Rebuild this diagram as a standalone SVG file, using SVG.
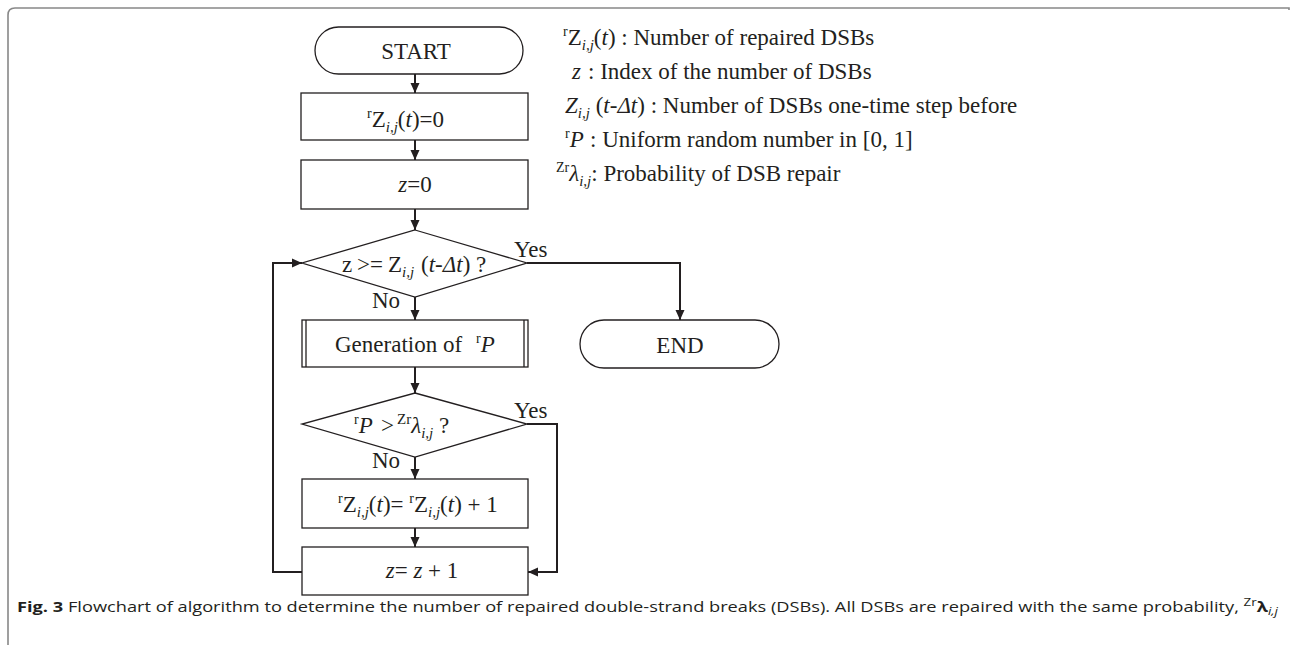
<svg xmlns="http://www.w3.org/2000/svg" width="1291" height="645" viewBox="0 0 1291 645">
<style>
.sh{fill:#fff;stroke:#231f20;stroke-width:1.3}
.cn{fill:none;stroke:#231f20;stroke-width:2}
.t{font-family:"Liberation Serif","Times New Roman",serif;font-size:23px;fill:#231f20}
.lg{font-family:"Liberation Serif","Times New Roman",serif;font-size:23px;fill:#231f20}
.it{font-style:italic}
.cap{font-family:"Open Sans","Noto Sans",sans-serif;font-size:15px;fill:#231f20}
</style>
<defs>
<marker id="ah" markerUnits="userSpaceOnUse" markerWidth="12" markerHeight="10" refX="10" refY="5" orient="auto">
<path d="M0,0.5 L10,5 L0,9.5 z" fill="#231f20"/>
</marker>
</defs>
<rect width="1291" height="645" fill="#fff"/>
<path d="M8,645 V15 Q8,8 15,8 H1289 V10" fill="none" stroke="#888" stroke-width="1.6"/>

<g id="connectors">
<path class="cn" d="M415,74 V93" marker-end="url(#ah)"/>
<path class="cn" d="M415,140 V160" marker-end="url(#ah)"/>
<path class="cn" d="M415,209 V230" marker-end="url(#ah)"/>
<path class="cn" d="M415,297 V320" marker-end="url(#ah)"/>
<path class="cn" d="M415,367 V393" marker-end="url(#ah)"/>
<path class="cn" d="M415,457 V479" marker-end="url(#ah)"/>
<path class="cn" d="M415,528 V547" marker-end="url(#ah)"/>
<path class="cn" d="M527,263 H680 V320" marker-end="url(#ah)"/>
<path class="cn" d="M527,424 H557 V572 H528" marker-end="url(#ah)"/>
<path class="cn" d="M302,572 H273 V263 H302" marker-end="url(#ah)"/>
<text class="t" x="514" y="257">Yes</text>
<text class="t" x="372" y="308">No</text>
<text class="t" x="514" y="418">Yes</text>
<text class="t" x="372" y="468">No</text>
</g>

<g id="start">
<rect class="sh" x="315" y="27" width="208" height="47" rx="23.5"/>
<text class="t" x="416" y="59" text-anchor="middle">START</text>
</g>
<g id="init-rz">
<rect class="sh" x="301" y="93" width="227" height="47"/>
<text class="t" x="367" y="127"><tspan font-size="14" dy="-9">r</tspan><tspan dy="9">Z</tspan><tspan class="it" font-size="15" dy="5">i,j</tspan><tspan dy="-5">(</tspan><tspan class="it">t</tspan>)=0</text>
</g>
<g id="init-z">
<rect class="sh" x="301" y="160" width="227" height="49"/>
<text class="t" x="415" y="192" text-anchor="middle"><tspan class="it">z</tspan>=0</text>
</g>
<g id="cond1">
<polygon class="sh" points="415,230 527,263 415,297 302,263"/>
<text class="t" x="342" y="272">z <tspan x="357">&gt;=</tspan><tspan x="388">Z</tspan><tspan class="it" font-size="15" dy="5">i,j</tspan><tspan dy="-5" x="421">(</tspan><tspan class="it">t</tspan>-<tspan class="it">Δt</tspan>) ?</text>
</g>
<g id="gen-p">
<rect class="sh" x="302" y="320" width="226" height="47"/>
<line x1="306" y1="320" x2="306" y2="367" stroke="#231f20" stroke-width="1.3"/>
<line x1="524" y1="320" x2="524" y2="367" stroke="#231f20" stroke-width="1.3"/>
<text class="t" x="335" y="352">Generation of<tspan font-size="14" dy="-9" x="476">r</tspan><tspan class="it" dy="9">P</tspan></text>
</g>
<g id="cond2">
<polygon class="sh" points="415,393 527,424 415,457 302,424"/>
<text class="t" x="354" y="433"><tspan font-size="14" dy="-9">r</tspan><tspan class="it" dy="9">P</tspan><tspan x="381">&gt;</tspan><tspan font-size="15" dy="-9" x="397">Zr</tspan><tspan class="it" dy="9">λ</tspan><tspan class="it" font-size="15" dy="5">i,j</tspan><tspan dy="-5"> ?</tspan></text>
</g>
<g id="increment-rz">
<rect class="sh" x="302" y="479" width="226" height="49"/>
<text class="t" x="338" y="512"><tspan font-size="14" dy="-9">r</tspan><tspan dy="9">Z</tspan><tspan class="it" font-size="15" dy="5">i,j</tspan><tspan dy="-5">(</tspan><tspan class="it">t</tspan>)= <tspan font-size="14" dy="-9">r</tspan><tspan dy="9">Z</tspan><tspan class="it" font-size="15" dy="5">i,j</tspan><tspan dy="-5">(</tspan><tspan class="it">t</tspan>) + 1</text>
</g>
<g id="increment-z">
<rect class="sh" x="302" y="547" width="226" height="48"/>
<text class="t" x="422" y="578" text-anchor="middle"><tspan class="it">z</tspan>= <tspan class="it">z</tspan> + 1</text>
</g>
<g id="end">
<rect class="sh" x="580" y="320" width="199" height="48" rx="24"/>
<text class="t" x="680" y="353" text-anchor="middle">END</text>
</g>

<g id="legend">
<text class="lg" x="563" y="45"><tspan font-size="14" dy="-9">r</tspan><tspan dy="9">Z</tspan><tspan class="it" font-size="15" dy="5">i,j</tspan><tspan dy="-5">(</tspan><tspan class="it">t</tspan>) : Number of repaired DSBs</text>
<text class="lg" x="572" y="79"><tspan class="it">z</tspan></text>
<text class="lg" x="588" y="79">: Index of the number of DSBs</text>
<text class="lg" x="565" y="113"><tspan class="it">Z</tspan><tspan class="it" font-size="15" dy="5">i,j</tspan><tspan dy="-5"> (</tspan><tspan class="it">t</tspan>-<tspan class="it">Δt</tspan>) : Number of DSBs one-time step before</text>
<text class="lg" x="565" y="147"><tspan font-size="14" dy="-9">r</tspan><tspan class="it" dy="9">P</tspan></text>
<text class="lg" x="590" y="147">: Uniform random number in [0, 1]</text>
<text class="lg" x="556" y="181"><tspan font-size="14" dy="-9">Zr</tspan><tspan class="it" dy="9">λ</tspan><tspan class="it" font-size="15" dy="5">i,j</tspan><tspan dy="-5">: Probability of DSB repair</tspan></text>
</g>

<text class="cap" x="17" y="612" textLength="1261" lengthAdjust="spacingAndGlyphs"><tspan font-weight="bold">Fig. 3</tspan> Flowchart of algorithm to determine the number of repaired double-strand breaks (DSBs). All DSBs are repaired with the same probability, <tspan font-size="11" dy="-6">Zr</tspan><tspan font-weight="bold" dy="6">λ</tspan><tspan class="it" font-size="11" dy="3">i,j</tspan></text>
</svg>
